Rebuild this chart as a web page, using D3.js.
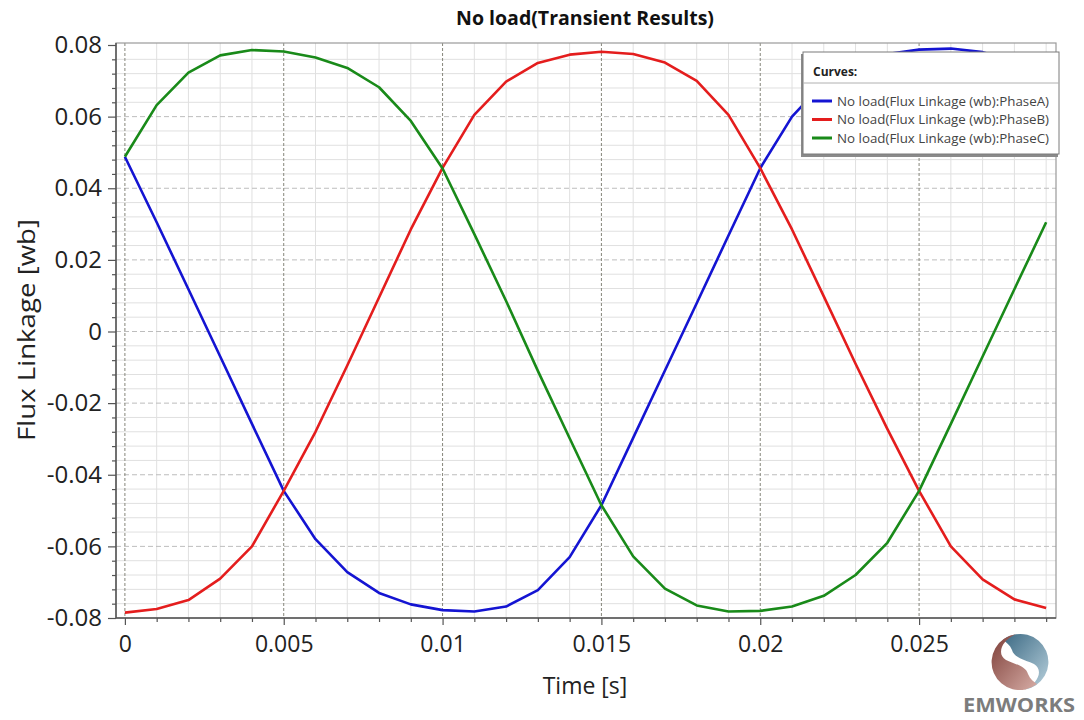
<!DOCTYPE html>
<html>
<head>
<meta charset="utf-8">
<script src="https://cdn.jsdelivr.net/npm/d3@7"></script>
<style>
  html, body { margin: 0; padding: 0; background: #fff; }
  svg { display: block; font-family: "Open Sans", "Noto Sans", sans-serif; }
</style>
</head>
<body>
<svg id="chart" width="1084" height="720"></svg>
<script>
// Sample instants [s]
const timeSteps = [0, 0.001, 0.002, 0.003, 0.004, 0.005, 0.006, 0.007, 0.008, 0.009,
                   0.010, 0.011, 0.012, 0.013, 0.014, 0.015, 0.016, 0.017, 0.018, 0.019,
                   0.020, 0.021, 0.022, 0.023, 0.024, 0.025, 0.026, 0.027, 0.028, 0.029];

// Flux linkage per phase [wb]
const phaseA = [0.0488, 0.0305, 0.0118, -0.0070, -0.0258, -0.0445, -0.0580, -0.0672, -0.0730, -0.0762,
                -0.0778, -0.0782, -0.0768, -0.0722, -0.0630, -0.0485, -0.0297, -0.0109, 0.0079, 0.0268,
                0.0456, 0.0600, 0.0695, 0.0750, 0.0775, 0.0787, 0.0790, 0.0780, 0.0755, 0.0705];
const phaseB = [-0.0785, -0.0775, -0.0750, -0.0690, -0.0600, -0.0445, -0.0280, -0.0095, 0.0095, 0.0285,
                0.0457, 0.0605, 0.0698, 0.0750, 0.0773, 0.0781, 0.0775, 0.0751, 0.0700, 0.0605,
                0.0456, 0.0285, 0.0098, -0.0090, -0.0272, -0.0445, -0.0600, -0.0692, -0.0748, -0.0772];
const phaseC = [0.0488, 0.0632, 0.0723, 0.0771, 0.0786, 0.0782, 0.0765, 0.0736, 0.0682, 0.0588,
                0.0455, 0.0272, 0.0085, -0.0110, -0.0298, -0.0485, -0.0628, -0.0718, -0.0765, -0.0782,
                -0.0780, -0.0768, -0.0738, -0.0680, -0.0590, -0.0445, -0.0258, -0.0070, 0.0118, 0.0305];

const seriesNames = ["No load(Flux Linkage (wb):PhaseA)",
                     "No load(Flux Linkage (wb):PhaseB)",
                     "No load(Flux Linkage (wb):PhaseC)"];
const seriesColors = ["#1414d2", "#e41d1d", "#198a19"];

// Tick values and labels
const xMajorTicks = [0, 0.005, 0.010, 0.015, 0.020, 0.025];
const xTickLabels = ["0", "0.005", "0.01", "0.015", "0.02", "0.025"];
const yMajorTicks = [0.08, 0.06, 0.04, 0.02, 0, -0.02, -0.04, -0.06, -0.08];
const yTickLabels = ["0.08", "0.06", "0.04", "0.02", "0", "-0.02", "-0.04", "-0.06", "-0.08"];

const svg = d3.select("#chart");
const plotLeft = 116, plotRight = 1056, plotTop = 43, plotBottom = 618;

const x = d3.scaleLinear().domain([-0.00028, 0.02931]).range([plotLeft, plotRight]);
const y = d3.scaleLinear().domain([-0.08, 0.08]).range([plotBottom, 45]);

// minor positions: every millisecond on x, every 0.004 wb on y
const xMinor = d3.range(0, 30).map(i => i / 1000);
const yMinor = d3.range(-20, 21).map(i => i * 0.004);
const isMajorX = v => Math.abs(v * 200 - Math.round(v * 200)) < 1e-6;
const isMajorY = v => Math.abs(v * 50 - Math.round(v * 50)) < 1e-6;

// plot background
svg.append("rect").attr("x", plotLeft).attr("y", plotTop)
  .attr("width", plotRight - plotLeft).attr("height", plotBottom - plotTop).attr("fill", "#fff");

const grid = svg.append("g");
grid.selectAll("line.vmin").data(xMinor.filter(v => !isMajorX(v))).join("line")
  .attr("x1", d => x(d)).attr("x2", d => x(d)).attr("y1", plotTop).attr("y2", plotBottom)
  .attr("stroke", "#e0e0e0").attr("stroke-width", 1);
grid.selectAll("line.hmin").data(yMinor.filter(v => !isMajorY(v) && Math.abs(v) < 0.08)).join("line")
  .attr("x1", plotLeft).attr("x2", plotRight).attr("y1", d => y(d)).attr("y2", d => y(d))
  .attr("stroke", "#e0e0e0").attr("stroke-width", 1);
grid.selectAll("line.hmaj").data(yMajorTicks.filter(v => Math.abs(v) < 0.08)).join("line")
  .attr("x1", plotLeft).attr("x2", plotRight).attr("y1", d => y(d)).attr("y2", d => y(d))
  .attr("stroke", "#bdbdbd").attr("stroke-width", 1).attr("stroke-dasharray", "5,3");
grid.selectAll("line.vmaj").data(xMajorTicks).join("line")
  .attr("x1", d => x(d)).attr("x2", d => x(d)).attr("y1", plotTop).attr("y2", plotBottom)
  .attr("stroke", "#86867a").attr("stroke-width", 1).attr("stroke-dasharray", "3,2");

// frame
svg.append("rect").attr("x", plotLeft).attr("y", plotTop)
  .attr("width", plotRight - plotLeft).attr("height", plotBottom - plotTop)
  .attr("fill", "none").attr("stroke", "#9a9a9a").attr("stroke-width", 1.2);

// curves
const series = [phaseA, phaseB, phaseC];
const line = d3.line().x((d, i) => x(timeSteps[i])).y(d => y(d));
svg.append("g").selectAll("path").data(series).join("path")
  .attr("d", d => line(d)).attr("fill", "none")
  .attr("stroke", (d, i) => seriesColors[i]).attr("stroke-width", 2.6)
  .attr("stroke-linejoin", "round");

// axes
const axisColor = "#555";
const yAxis = svg.append("g").attr("transform", `translate(${plotLeft},0)`)
  .call(d3.axisLeft(y).tickValues(yMajorTicks).tickSize(8).tickSizeOuter(0).tickPadding(6)
    .tickFormat((d, i) => yTickLabels[i]));
const yAxisMinor = svg.append("g").attr("transform", `translate(${plotLeft},0)`)
  .call(d3.axisLeft(y).tickValues(yMinor.filter(v => !isMajorY(v))).tickSize(4).tickSizeOuter(0).tickFormat(""));
const xAxis = svg.append("g").attr("transform", `translate(0,${plotBottom})`)
  .call(d3.axisBottom(x).tickValues(xMajorTicks).tickSize(7).tickSizeOuter(0).tickPadding(11)
    .tickFormat((d, i) => xTickLabels[i]));
const xAxisMinor = svg.append("g").attr("transform", `translate(0,${plotBottom})`)
  .call(d3.axisBottom(x).tickValues(xMinor.filter(v => !isMajorX(v))).tickSize(4).tickSizeOuter(0).tickFormat(""));

[yAxis, yAxisMinor, xAxis, xAxisMinor].forEach(g => {
  g.select(".domain").remove();
  g.selectAll(".tick line").attr("stroke", axisColor).attr("stroke-width", 1.2);
  g.selectAll(".tick text").attr("fill", "#222").style("font-size", "24px")
    .style("font-family", '"Open Sans", sans-serif');
});
xAxis.selectAll(".tick text").style("font-size", "23px");

// axis lines
svg.append("line").attr("x1", plotLeft).attr("x2", plotLeft).attr("y1", plotTop).attr("y2", plotBottom)
  .attr("stroke", axisColor).attr("stroke-width", 1.5);
svg.append("line").attr("x1", plotLeft).attr("x2", plotRight).attr("y1", plotBottom).attr("y2", plotBottom)
  .attr("stroke", axisColor).attr("stroke-width", 1.5);

// titles
svg.append("text").attr("x", 585).attr("y", 25).attr("text-anchor", "middle")
  .style("font-size", "19px").style("font-weight", "bold").attr("fill", "#111")
  .attr("textLength", 258).attr("lengthAdjust", "spacingAndGlyphs").text("No load(Transient Results)");
svg.append("text").attr("transform", "translate(35,330) rotate(-90)").attr("text-anchor", "middle")
  .style("font-size", "24px").attr("fill", "#222")
  .attr("textLength", 222).attr("lengthAdjust", "spacingAndGlyphs").text("Flux Linkage [wb]");
svg.append("text").attr("x", 585).attr("y", 694).attr("text-anchor", "middle")
  .style("font-size", "23px").attr("fill", "#222").text("Time [s]");

// legend
const lg = svg.append("g").attr("transform", "translate(803,52)");
lg.append("rect").attr("x", -2).attr("y", 2).attr("width", 257).attr("height", 103).attr("fill", "#8a8a8a");
lg.append("rect").attr("x", 0).attr("y", 0).attr("width", 256).attr("height", 102)
  .attr("fill", "#fff").attr("stroke", "#7a7a7a").attr("stroke-width", 1);
lg.append("text").attr("x", 10).attr("y", 24).style("font-size", "12px").style("font-weight", "bold")
  .attr("fill", "#222").text("Curves:");
lg.append("line").attr("x1", 0).attr("x2", 256).attr("y1", 31).attr("y2", 31)
  .attr("stroke", "#b0b0b0").attr("stroke-width", 1);
const items = lg.selectAll("g.item").data(seriesNames).join("g")
  .attr("transform", (d, i) => `translate(0,${49 + i * 18.5})`);
items.append("line").attr("x1", 9).attr("x2", 29).attr("y1", 0).attr("y2", 0)
  .attr("stroke", (d, i) => seriesColors[i]).attr("stroke-width", 3);
items.append("text").attr("x", 34).attr("y", 4.5).style("font-size", "13px").attr("fill", "#444")
  .attr("textLength", 212).attr("lengthAdjust", "spacingAndGlyphs").text(d => d);

// EMWORKS mark
const defs = svg.append("defs");
const gb = defs.append("linearGradient").attr("id", "gBlue").attr("x1", "0").attr("y1", "0").attr("x2", "1").attr("y2", "1");
gb.append("stop").attr("offset", "0").attr("stop-color", "#3c6a84");
gb.append("stop").attr("offset", "1").attr("stop-color", "#b9d1dd");
const gr = defs.append("linearGradient").attr("id", "gBrown").attr("x1", "1").attr("y1", "1").attr("x2", "0").attr("y2", "0");
gr.append("stop").attr("offset", "0").attr("stop-color", "#7d3e38");
gr.append("stop").attr("offset", "1").attr("stop-color", "#d6aca5");
const swirl = "M -17 -22 A 28 28 0 1 1 4 27.7 C 18 22 24 8 14 2 C 6 -2 -6 -4 -8 -12 C -10 -17 -14 -20 -17 -22 Z";
const logo = svg.append("g").attr("transform", "translate(1020,662)");
logo.append("path").attr("d", swirl).attr("fill", "url(#gBlue)");
logo.append("path").attr("d", swirl).attr("transform", "rotate(180)").attr("fill", "url(#gBrown)");
svg.append("text").attr("x", 1019).attr("y", 712).attr("text-anchor", "middle")
  .style("font-size", "20px").style("font-weight", "bold").attr("fill", "#7c7c7c")
  .attr("textLength", 112).attr("lengthAdjust", "spacingAndGlyphs").text("EMWORKS");
</script>
</body>
</html>
